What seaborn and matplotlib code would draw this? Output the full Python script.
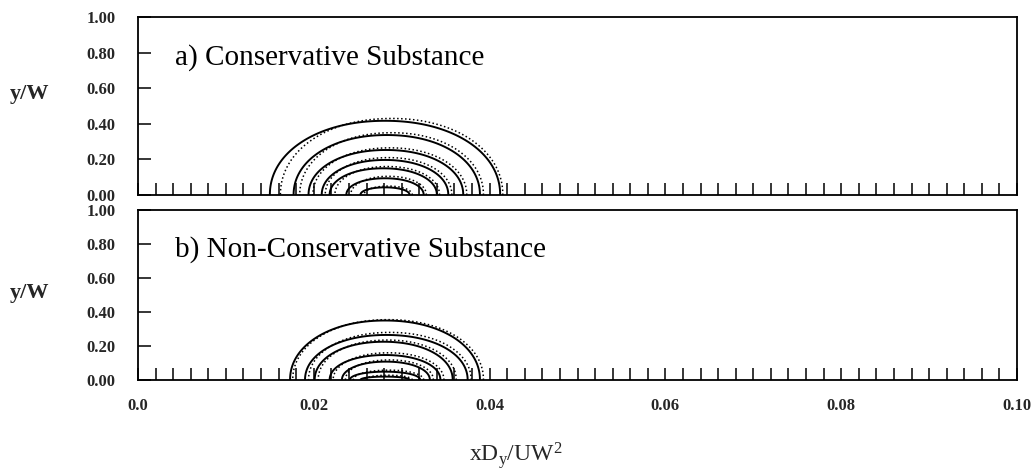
"""
Concentration contours downstream of a wall source:
conservative vs non-conservative substance (two stacked panels).
"""

import numpy as np
import matplotlib
matplotlib.use("Agg")
import matplotlib.pyplot as plt
from matplotlib.ticker import FixedLocator, FixedFormatter, MultipleLocator
import seaborn as sns


# axis ticks
X_TICKS = [0.0, 0.02, 0.04, 0.06, 0.08, 0.10]
X_TICK_LABELS = ["0.0", "0.02", "0.04", "0.06", "0.08", "0.10"]
Y_TICKS = [0.0, 0.2, 0.4, 0.6, 0.8, 1.0]
Y_TICK_LABELS = ["0.00", "0.20", "0.40", "0.60", "0.80", "1.00"]

# contour extents: left / right foot on the wall, peak height
# a) conservative substance
CONS_SOLID_LEFT = [0.0150, 0.0177, 0.0194, 0.0209, 0.0218, 0.0237, 0.0253]
CONS_SOLID_RIGHT = [0.0412, 0.0389, 0.0370, 0.0353, 0.0340, 0.0325, 0.0309]
CONS_SOLID_TOP = [0.417, 0.337, 0.253, 0.197, 0.150, 0.094, 0.043]
CONS_DOT_LEFT = [0.0162, 0.0184, 0.0199, 0.0213, 0.0224, 0.0242, 0.0257]
CONS_DOT_RIGHT = [0.0415, 0.0393, 0.0374, 0.0357, 0.0343, 0.0328, 0.0312]
CONS_DOT_TOP = [0.430, 0.350, 0.265, 0.210, 0.160, 0.105, 0.050]

# b) non-conservative substance
NONC_SOLID_LEFT = [0.0173, 0.0190, 0.0201, 0.0218, 0.0232, 0.0241, 0.0253]
NONC_SOLID_RIGHT = [0.0389, 0.0375, 0.0358, 0.0344, 0.0332, 0.0321, 0.0309]
NONC_SOLID_TOP = [0.350, 0.265, 0.225, 0.147, 0.108, 0.049, 0.020]
NONC_DOT_LEFT = [0.0176, 0.0194, 0.0205, 0.0222, 0.0236, 0.0245, 0.0257]
NONC_DOT_RIGHT = [0.0393, 0.0379, 0.0362, 0.0348, 0.0336, 0.0325, 0.0312]
NONC_DOT_TOP = [0.355, 0.280, 0.235, 0.160, 0.118, 0.058, 0.028]

PANEL_TITLES = ["a) Conservative Substance", "b) Non-Conservative Substance"]


def contour_arc(left, right, top, n=2.1, npts=120):
    """Semi-ellipse resting on the wall between left and right."""
    t = np.linspace(0.0, np.pi, npts)
    c, s = np.cos(t), np.sin(t)
    mid = 0.5 * (left + right)
    half = 0.5 * (right - left)
    xs = mid + half * np.sign(c) * np.abs(c) ** (2.0 / n)
    ys = top * s ** (2.0 / n)
    return xs, ys


def draw_contours(ax, lefts, rights, tops, style, lw):
    for l, r, h in zip(lefts, rights, tops):
        xs, ys = contour_arc(l, r, h)
        sns.lineplot(x=xs, y=ys, sort=False, estimator=None, ax=ax,
                     color="black", linewidth=lw, linestyle=style)


def style_axis(ax, show_xlabels):
    ax.set_xlim(0.0, 0.10)
    ax.set_ylim(0.0, 1.0)
    for sp in ax.spines.values():
        sp.set_visible(True)
        sp.set_color("black")
        sp.set_linewidth(1.3)
    ax.xaxis.set_major_locator(FixedLocator(X_TICKS))
    ax.xaxis.set_major_formatter(FixedFormatter(X_TICK_LABELS))
    ax.xaxis.set_minor_locator(MultipleLocator(0.002))
    ax.yaxis.set_major_locator(FixedLocator(Y_TICKS))
    ax.yaxis.set_major_formatter(FixedFormatter(Y_TICK_LABELS))
    ax.tick_params(axis="x", which="both", direction="in", length=8.6,
                   width=1.1, color="black", bottom=True, top=False,
                   labelbottom=show_xlabels, labelsize=12, pad=13)
    ax.tick_params(axis="y", which="major", direction="in", length=9.4,
                   width=1.1, color="black", left=True, right=False,
                   labelsize=12, pad=16)
    for lab in ax.get_xticklabels() + ax.get_yticklabels():
        lab.set_fontweight("bold")
    ax.set_xlabel("")
    ax.set_ylabel("")
    ax.grid(False)


sns.set_theme(style="white")
plt.rcParams["font.family"] = ["Liberation Serif", "DejaVu Serif"]
plt.rcParams["mathtext.fontset"] = "custom"
plt.rcParams["mathtext.rm"] = "Liberation Serif"
plt.rcParams["mathtext.it"] = "Liberation Serif"

fig = plt.figure(figsize=(10.36, 4.73), dpi=100)
ax_a = fig.add_axes([0.1332, 0.5877, 0.8485, 0.3763])
ax_b = fig.add_axes([0.1332, 0.1966, 0.8485, 0.3594])

panels = [
    (ax_a, CONS_SOLID_LEFT, CONS_SOLID_RIGHT, CONS_SOLID_TOP,
     CONS_DOT_LEFT, CONS_DOT_RIGHT, CONS_DOT_TOP),
    (ax_b, NONC_SOLID_LEFT, NONC_SOLID_RIGHT, NONC_SOLID_TOP,
     NONC_DOT_LEFT, NONC_DOT_RIGHT, NONC_DOT_TOP),
]

for i, (ax, sl, sr, st, dl, dr, dt) in enumerate(panels):
    draw_contours(ax, dl, dr, dt, (0, (1, 1.6)), 1.1)
    draw_contours(ax, sl, sr, st, "-", 1.4)
    style_axis(ax, show_xlabels=(i == 1))
    ax.text(0.042, 0.77, PANEL_TITLES[i], transform=ax.transAxes,
            fontsize=21, ha="left", va="center", color="black")

# y/W labels, one per panel
fig.text(30 / 1036, 1 - 94 / 473, "y/W", fontsize=16, fontweight="bold",
         ha="center", va="center")
fig.text(30 / 1036, 1 - 293 / 473, "y/W", fontsize=16, fontweight="bold",
         ha="center", va="center")

fig.text(516 / 1036, 1 - 455 / 473, r"xD$_{\mathrm{y}}$/UW$^{\mathrm{2}}$",
         fontsize=17, ha="center", va="center")

fig.savefig("out.png", dpi=100)
plt.close(fig)
